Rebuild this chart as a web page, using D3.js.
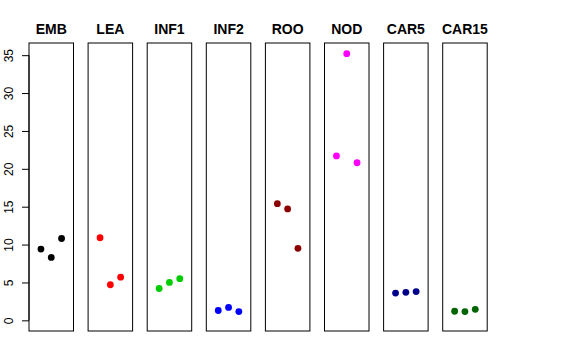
<!DOCTYPE html>
<html lang="en">
<head>
    <meta charset="UTF-8">
    <title>Panels</title>
    <script src="https://cdnjs.cloudflare.com/ajax/libs/d3/7.8.5/d3.min.js"></script>
    <style>
        * { margin: 0; padding: 0; }
        body { background: white; }
        text { font-family: 'Liberation Sans', Arial, sans-serif; }
    </style>
</head>
<body>
    <div id="chart"></div>
    <script>
        // data
        const groups = ['EMB', 'LEA', 'INF1', 'INF2', 'ROO', 'NOD', 'CAR5', 'CAR15'];
        const colors = ['#000000', '#ff0000', '#00cd00', '#0000ff', '#8b0000', '#ff00ff', '#00008b', '#006400'];
        const values = [
            [9.4, 8.3, 10.8],
            [10.9, 4.7, 5.7],
            [4.2, 5.0, 5.5],
            [1.3, 1.7, 1.15],
            [15.4, 14.7, 9.5],
            [21.7, 35.2, 20.8],
            [3.6, 3.7, 3.8],
            [1.2, 1.15, 1.45]
        ];
        const yTicks = [0, 5, 10, 15, 20, 25, 30, 35];

        const width = 576, height = 360;
        const svg = d3.select('#chart').append('svg')
            .attr('width', width).attr('height', height);

        const panelW = 44.5, step = 59.1, left0 = 29;
        const panelTop = 43, panelBottom = 331;

        const yMax = 35.2, pad = yMax * 0.04;
        const y = d3.scaleLinear().domain([-pad, yMax + pad]).range([panelBottom, panelTop]);

        // y axis on the first panel
        const axis = svg.append('g').attr('transform', `translate(${left0},0)`)
            .call(d3.axisLeft(y).tickValues(yTicks).tickSize(7).tickSizeOuter(0).tickPadding(4));
        axis.select('.domain').attr('d', `M0,${y(0)}V${y(35)}`).attr('stroke', '#000');
        axis.selectAll('.tick line').attr('stroke', '#000');
        axis.selectAll('.tick text')
            .attr('transform', 'rotate(-90)')
            .attr('x', 0).attr('y', -16)
            .attr('dy', 0)
            .style('text-anchor', 'middle')
            .style('font-size', '12px')
            .attr('fill', '#000');

        groups.forEach((name, i) => {
            const x0 = left0 + i * step;
            const x = d3.scaleLinear().domain([-0.16, 4.16]).range([x0, x0 + panelW]);
            const g = svg.append('g');

            g.append('rect')
                .attr('x', x0).attr('y', panelTop)
                .attr('width', panelW).attr('height', panelBottom - panelTop)
                .attr('fill', 'none').attr('stroke', '#000').attr('stroke-width', 1);

            g.append('text')
                .attr('x', x0 + panelW / 2).attr('y', 34)
                .attr('text-anchor', 'middle')
                .style('font-size', '14px').style('font-weight', 'bold')
                .text(name);

            g.selectAll('circle')
                .data(values[i])
                .enter().append('circle')
                .attr('cx', (d, j) => x(j + 1))
                .attr('cy', d => y(d))
                .attr('r', 3.4)
                .attr('fill', colors[i]);
        });
    </script>
</body>
</html>
